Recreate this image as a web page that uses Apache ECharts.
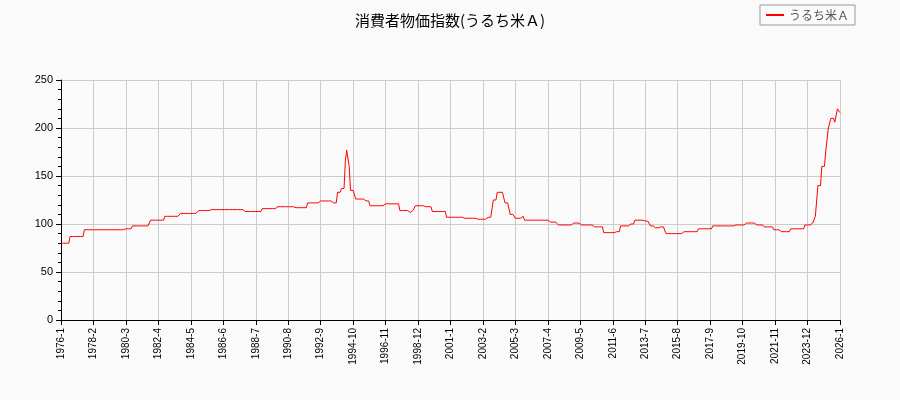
<!DOCTYPE html><html><head><meta charset="utf-8"><script src="https://cdn.jsdelivr.net/npm/echarts@6/dist/echarts.min.js"></script></head><body style="margin:0;background:#fafafa"><div id="c" style="width:900px;height:400px"></div><script>
// change points: month offset from 1976-1, and value held from that month
const changeMonth=[0,7,18,49,55,69,80,92,106,116,142,155,166,180,190,200,210,213,216,219,220,222,223,227,234,238,250,261,269,271,273,280,286,297,311,321,329,333,336,342,346,350,355,357,377,383,394,400,411,418,427,431,438,442,450,454,458,462,466,479,491,502,519,527,535,542,549,554,562,573,579,581,583,586,589,591,593,596,598,600];
const changeValue=[80,87,94,95,98,104,108,111,114,115,113,116,118,117,122,124,122,133,137,165,177,160,135,126,124,119,121,114,112,114,119,118,113,107,106,105,107,125,133,122,110,106,108,104,102,99,101,99,97,91,92,98,100,104,103,98,96,97,90,92,95,98,99,101,99,97,94,92,95,99,101,108,140,160,175,200,210,206,220,216];
const categories=[],values=[];
let k=0;
for(let m=0;m<=600;m++){const y=1976+Math.floor(m/12);categories.push(y+'-'+(m%12+1));while(k+1<changeMonth.length&&changeMonth[k+1]<=m)k++;values.push(changeValue[k]);}
const ch=echarts.init(document.getElementById('c'));
ch.setOption({backgroundColor:'#fafafa',
title:{text:'消費者物価指数(うるち米Ａ)',left:'center',top:8,textStyle:{fontSize:15,fontWeight:'normal',color:'#000',fontFamily:'Noto Sans CJK JP'}},
legend:{right:45,top:5,itemWidth:18,itemHeight:2,borderColor:'#999',borderWidth:1,borderRadius:0,padding:[4,6],textStyle:{fontSize:12,fontFamily:'Noto Sans CJK JP'},data:[{name:'うるち米Ａ',icon:'rect'}]},
grid:{left:61,right:60,top:80,bottom:80},
xAxis:{type:'category',data:categories,boundaryGap:false,axisLabel:{interval:24,rotate:90,fontSize:10,color:'#000'},axisTick:{interval:24,lineStyle:{color:'#000'}},axisLine:{lineStyle:{color:'#000'}},splitLine:{show:true,interval:24,lineStyle:{color:'#ccc'}}},
yAxis:{type:'value',min:0,max:250,interval:50,axisLabel:{fontSize:11,color:'#000'},axisLine:{show:true,lineStyle:{color:'#000'}},axisTick:{show:true},minorTick:{show:true,splitNumber:5},splitLine:{lineStyle:{color:'#ccc'}}},
series:[{name:'うるち米Ａ',type:'line',data:values,showSymbol:false,lineStyle:{color:'red',width:1},itemStyle:{color:'red'}}]});
</script></body></html>
